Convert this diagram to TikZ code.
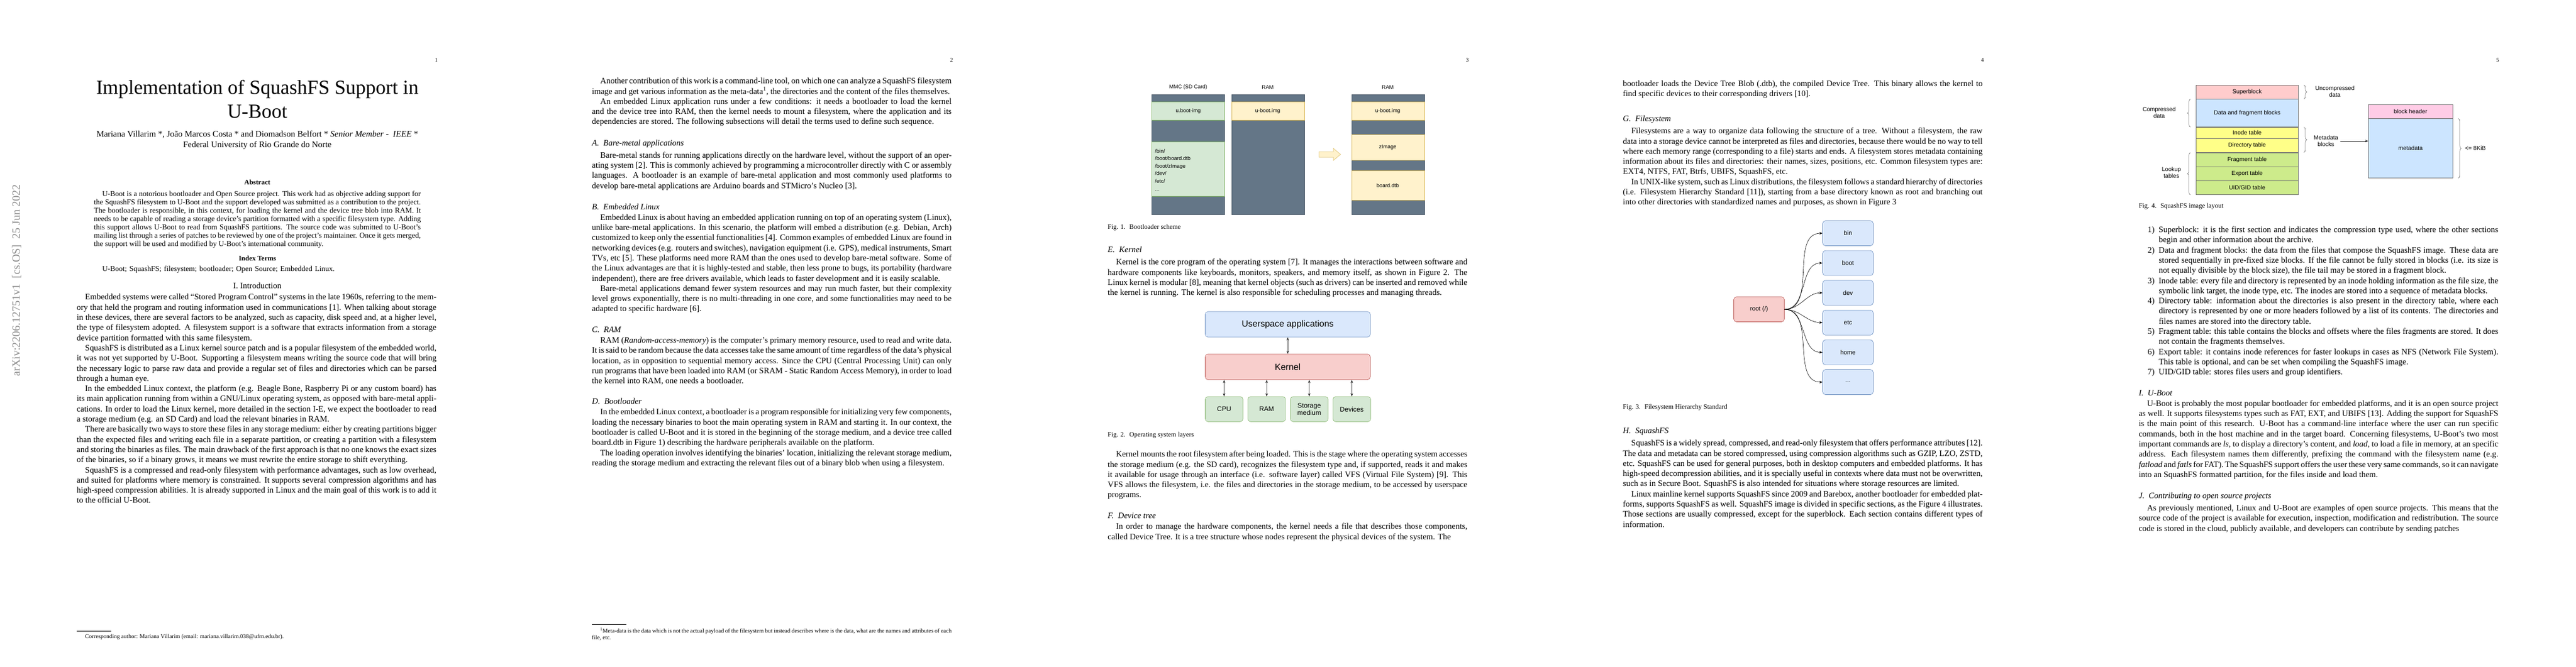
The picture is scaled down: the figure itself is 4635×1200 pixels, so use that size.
\documentclass[tikz,border=0pt]{standalone}
\usepackage{fontspec}
\setmainfont{Liberation Serif}
\newfontfamily\figfont{Liberation Sans}
\usepackage{xcolor}
\usetikzlibrary{positioning, arrows.meta, decorations.pathreplacing}
\definecolor{slate}{HTML}{647687}
\definecolor{mintfill}{HTML}{D5E8D4}
\definecolor{mintline}{HTML}{82B366}
\definecolor{creamfill}{HTML}{FFF2CC}
\definecolor{creamline}{HTML}{D6B656}
\definecolor{skyfill}{HTML}{DAE8FC}
\definecolor{skyline}{HTML}{6C8EBF}
\definecolor{rosefill}{HTML}{F8CECC}
\definecolor{roseline}{HTML}{B85450}
\definecolor{sqpink}{HTML}{FFCCCC}
\definecolor{sqblue}{HTML}{CCE5FF}
\definecolor{sqyellow}{HTML}{FFFF88}
\definecolor{sqgreen}{HTML}{CDEB8B}
\definecolor{sqheader}{HTML}{FFCCE6}
\newcommand{\bodyfont}{\fontsize{15}{18.3}\selectfont}
\newcommand{\pin}{\hspace*{15pt}}
\newcommand{\sqitem}[1]{\par\leavevmode\llap{#1)\ \ }}

\begin{document}
\begin{tikzpicture}[
        x=1pt, y=-1pt,
        >=Stealth,
        body/.style={anchor=north west, inner sep=0pt, text width=647pt, align=justify, font=\bodyfont},
        heading/.style={anchor=north west, inner sep=0pt, font=\fontsize{15}{17}\selectfont\itshape},
        caption/.style={anchor=north west, inner sep=0pt, font=\fontsize{12}{14}\selectfont},
        pagenum/.style={inner sep=0pt, font=\fontsize{10}{11}\selectfont},
        band/.style={draw=slate!80!black, fill=slate, line width=0.5pt},
        mmcband/.style={draw=mintline, fill=mintfill, line width=0.5pt},
        ramband/.style={draw=creamline, fill=creamfill, line width=0.5pt},
        layerbox/.style={draw=#1line, fill=#1fill, rounded corners=5pt, line width=0.6pt, font=\figfont},
        dirbox/.style={layerbox=sky, minimum width=91pt, minimum height=45pt, font=\figfont\fontsize{11}{13}\selectfont},
        hwbox/.style={layerbox=mint, minimum width=68pt, minimum height=45pt, align=center, font=\figfont\fontsize{12}{13}\selectfont},
        sqrow/.style={draw=black!55, minimum width=184pt, font=\figfont\fontsize{10.5}{12}\selectfont, inner sep=0pt},
        sqbrace/.style={decorate, decoration={brace, amplitude=5pt}, draw=black!70, line width=0.5pt},
        sqlabel/.style={align=center, font=\figfont\fontsize{10.5}{12}\selectfont, inner sep=0pt},
        link/.style={<->, draw=black!80, line width=0.6pt}
    ]
    \useasboundingbox[fill=white] (0,0) rectangle (4635,1200);

    % ---------- page 1 ----------
    \node[rotate=90, text=black!45, font=\fontsize{20}{22}\selectfont] (arxiv) at (30,505) {arXiv:2206.12751v1\ \ [cs.OS]\ \ 25 Jun 2022};
    \node[pagenum] (num1) at (785,108) {1};
    \node[align=center, font=\fontsize{36}{43}\selectfont] (title) at (463,178) {Implementation of SquashFS Support in\\U-Boot};
    \node[align=center, font=\fontsize{15.5}{19}\selectfont] (authors) at (463,252) {Mariana Villarim *, João Marcos Costa * and Diomadson Belfort * \textit{Senior Member - \ IEEE} *\\Federal University of Rio Grande do Norte};
    \node[font=\fontsize{12.5}{14}\selectfont\bfseries] (abshead) at (463,328) {Abstract};
    \node[anchor=north west, inner sep=0pt, text width=588pt, align=justify, font=\fontsize{13.5}{15}\selectfont] (abstract) at (169,344) {\pin U-Boot is a notorious bootloader and Open Source project. This work had as objective adding support for the SquashFS filesystem to U-Boot and the support developed was submitted as a contribution to the project. The bootloader is responsible, in this context, for loading the kernel and the device tree blob into RAM. It needs to be capable of reading a storage device's partition formatted with a specific filesystem type. Adding this support allows U-Boot to read from SquashFS partitions. The source code was submitted to U-Boot's mailing list through a series of patches to be reviewed by one of the project's maintainer. Once it gets merged, the support will be used and modified by U-Boot's international community.};
    \node[font=\fontsize{12.5}{14}\selectfont\bfseries, below=10pt of abstract] (indexhead) {Index Terms};
    \node[anchor=north west, inner sep=0pt, text width=588pt, font=\fontsize{13.5}{15}\selectfont] (index) at ([yshift=-6pt]indexhead.south -| abstract.west) {\pin U-Boot; SquashFS; filesystem; bootloader; Open Source; Embedded Linux.};
    \coordinate (introstart) at (index.south -| title);
    \node[font=\fontsize{15}{17}\selectfont, below=14pt of introstart] (intro) {I. \textsc{Introduction}};
    \node[body] (p1text) at ([yshift=-6pt]intro.south -| 138,0) {\pin Embedded systems were called ``Stored Program Control'' systems in the late 1960s, referring to the memory that held the program and routing information used in communications [1]. When talking about storage in these devices, there are several factors to be analyzed, such as capacity, disk speed and, at a higher level, the type of filesystem adopted. A filesystem support is a software that extracts information from a storage device partition formatted with this same filesystem.\par
    \pin SquashFS is distributed as a Linux kernel source patch and is a popular filesystem of the embedded world, it was not yet supported by U-Boot. Supporting a filesystem means writing the source code that will bring the necessary logic to parse raw data and provide a regular set of files and directories which can be parsed through a human eye.\par
    \pin In the embedded Linux context, the platform (e.g. Beagle Bone, Raspberry Pi or any custom board) has its main application running from within a GNU/Linux operating system, as opposed with bare-metal applications. In order to load the Linux kernel, more detailed in the section I-E, we expect the bootloader to read a storage medium (e.g. an SD Card) and load the relevant binaries in RAM.\par
    \pin There are basically two ways to store these files in any storage medium: either by creating partitions bigger than the expected files and writing each file in a separate partition, or creating a partition with a filesystem and storing the binaries as files. The main drawback of the first approach is that no one knows the exact sizes of the binaries, so if a binary grows, it means we must rewrite the entire storage to shift everything.\par
    \pin SquashFS is a compressed and read-only filesystem with performance advantages, such as low overhead, and suited for platforms where memory is constrained. It supports several compression algorithms and has high-speed compression abilities. It is already supported in Linux and the main goal of this work is to add it to the official U-Boot.};
    \draw[line width=0.4pt] (138,1136) -- (200,1136);
    \node[caption, font=\fontsize{10.5}{12}\selectfont] (p1foot) at (138,1142) {\pin Corresponding author: Mariana Villarim (email: mariana.villarim.038@ufrn.edu.br).};

    % ---------- page 2 ----------
    \node[pagenum] (num2) at (1712,108) {2};
    \node[body] (p2a) at (1065,140) {\pin Another contribution of this work is a command-line tool, on which one can analyze a SquashFS filesystem image and get various information as the meta-data\textsuperscript{1}, the directories and the content of the files themselves.\par
    \pin An embedded Linux application runs under a few conditions: it needs a bootloader to load the kernel and the device tree into RAM, then the kernel needs to mount a filesystem, where the application and its dependencies are stored. The following subsections will detail the terms used to define such sequence.};
    \node[heading, below=24pt of p2a.south west, anchor=north west] (baremetal) {A. \ Bare-metal applications};
    \node[body, below=8pt of baremetal.south west, anchor=north west] (p2b) {\pin Bare-metal stands for running applications directly on the hardware level, without the support of an operating system [2]. This is commonly achieved by programming a microcontroller directly with C or assembly languages. A bootloader is an example of bare-metal application and most commonly used platforms to develop bare-metal applications are Arduino boards and STMicro's Nucleo [3].};
    \node[heading, below=24pt of p2b.south west, anchor=north west] (emblinux) {B. \ Embedded Linux};
    \node[body, below=8pt of emblinux.south west, anchor=north west] (p2c) {\pin Embedded Linux is about having an embedded application running on top of an operating system (Linux), unlike bare-metal applications. In this scenario, the platform will embed a distribution (e.g. Debian, Arch) customized to keep only the essential functionalities [4]. Common examples of embedded Linux are found in networking devices (e.g. routers and switches), navigation equipment (i.e. GPS), medical instruments, Smart TVs, etc [5]. These platforms need more RAM than the ones used to develop bare-metal software. Some of the Linux advantages are that it is highly-tested and stable, then less prone to bugs, its portability (hardware independent), there are free drivers available, which leads to faster development and it is easily scalable.\par
    \pin Bare-metal applications demand fewer system resources and may run much faster, but their complexity level grows exponentially, there is no multi-threading in one core, and some functionalities may need to be adapted to specific hardware [6].};
    \node[heading, below=24pt of p2c.south west, anchor=north west] (ramhead) {C. \ RAM};
    \node[body, below=8pt of ramhead.south west, anchor=north west] (p2d) {\pin RAM (\textit{Random-access-memory}) is the computer's primary memory resource, used to read and write data. It is said to be random because the data accesses take the same amount of time regardless of the data's physical location, as in opposition to sequential memory access. Since the CPU (Central Processing Unit) can only run programs that have been loaded into RAM (or SRAM - Static Random Access Memory), in order to load the kernel into RAM, one needs a bootloader.};
    \node[heading, below=24pt of p2d.south west, anchor=north west] (boothead) {D. \ Bootloader};
    \node[body, below=8pt of boothead.south west, anchor=north west] (p2e) {\pin In the embedded Linux context, a bootloader is a program responsible for initializing very few components, loading the necessary binaries to boot the main operating system in RAM and starting it. In our context, the bootloader is called U-Boot and it is stored in the beginning of the storage medium, and a device tree called board.dtb in Figure 1) describing the hardware peripherals available on the platform.\par
    \pin The loading operation involves identifying the binaries' location, initializing the relevant storage medium, reading the storage medium and extracting the relevant files out of a binary blob when using a filesystem.};
    \draw[line width=0.4pt] (1065,1124) -- (1127,1124);
    \node[anchor=north west, inner sep=0pt, text width=647pt, align=justify, font=\fontsize{10.5}{12}\selectfont] (p2foot) at (1065,1130) {\pin\textsuperscript{1}Meta-data is the data which is not the actual payload of the filesystem but instead describes where is the data, what are the names and attributes of each file, etc.};

    % ---------- page 3 ----------
    \node[pagenum] (num3) at (2640,108) {3};
    % bootloader scheme
    \begin{scope}[font=\figfont\fontsize{9.5}{12}\selectfont]
        \node (mmclabel) at (2138,157) {MMC (SD Card)};
        \draw[band] (2072,170) rectangle (2203,386);
        \draw[mmcband] (2072,183) rectangle (2203,216);
        \draw[mmcband] (2072,255) rectangle (2203,353);
        \node (mmcboot) at (2138,200) {u.boot-img};
        \node[anchor=north west, align=left, inner sep=0pt, font=\figfont\fontsize{9.5}{13.6}\selectfont] (mmcfiles) at (2078,268) {/bin/\\/boot/board.dtb\\/boot/zImage\\/dev/\\/etc/\\...};
        \node (ramlabel) at (2281,157) {RAM};
        \draw[band] (2216,170) rectangle (2347,386);
        \draw[ramband] (2216,183) rectangle (2347,216);
        \node (ramboot) at (2281,200) {u-boot.img};
        \draw[creamline, fill=creamfill, line width=0.5pt] (2373,273) -- (2399,273) -- (2399,267) -- (2412,278) -- (2399,289) -- (2399,283) -- (2373,283) -- cycle;
        \node (loadedlabel) at (2497,157) {RAM};
        \draw[band] (2432,170) rectangle (2563,386);
        \draw[ramband] (2432,183) rectangle (2563,216);
        \draw[ramband] (2432,242) rectangle (2563,288);
        \draw[ramband] (2432,307) rectangle (2563,360);
        \node (loadedboot) at (2497,200) {u-boot.img};
        \node (zimage) at (2497,265) {zImage};
        \node (dtb) at (2497,334) {board.dtb};
    \end{scope}
    \node[caption] (cap1) at (1993,404) {Fig. 1. \ Bootloader scheme};
    \node[heading] (kernelhead) at (1993,444) {E. \ Kernel};
    \node[body] (p3a) at (1993,466) {\pin Kernel is the core program of the operating system [7]. It manages the interactions between software and hardware components like keyboards, monitors, speakers, and memory itself, as shown in Figure 2. The Linux kernel is modular [8], meaning that kernel objects (such as drivers) can be inserted and removed while the kernel is running. The kernel is also responsible for scheduling processes and managing threads.};
    % operating system layers
    \node[layerbox=sky, minimum width=297pt, minimum height=46pt, font=\figfont\fontsize{16}{18}\selectfont] (userspace) at (2317,584) {Userspace applications};
    \node[layerbox=rose, minimum width=297pt, minimum height=46pt, font=\figfont\fontsize{16}{18}\selectfont, below=30pt of userspace] (kernel) {Kernel};
    \node[hwbox, below=30pt of kernel.south west, anchor=north west] (cpu) {CPU};
    \node[hwbox, right=8pt of cpu] (ram) {RAM};
    \node[hwbox, right=8pt of ram] (storage) {Storage\\medium};
    \node[hwbox, right=8pt of storage] (devices) {Devices};
    \draw[link] (kernel.north) -- (userspace.south);
    \foreach \hw in {cpu, ram, storage, devices}
        \draw[link] (\hw.north) -- (\hw.north |- kernel.south);
    \node[caption] (cap2) at (1993,778) {Fig. 2. \ Operating system layers};
    \node[body] (p3b) at (1993,812) {\pin Kernel mounts the root filesystem after being loaded. This is the stage where the operating system accesses the storage medium (e.g. the SD card), recognizes the filesystem type and, if supported, reads it and makes it available for usage through an interface (i.e. software layer) called VFS (Virtual File System) [9]. This VFS allows the filesystem, i.e. the files and directories in the storage medium, to be accessed by userspace programs.};
    \node[heading, below=24pt of p3b.south west, anchor=north west] (dthead) {F. \ Device tree};
    \node[body, below=8pt of dthead.south west, anchor=north west] (p3c) {\pin In order to manage the hardware components, the kernel needs a file that describes those components, called Device Tree. It is a tree structure whose nodes represent the physical devices of the system. The};

    % ---------- page 4 ----------
    \node[pagenum] (num4) at (3567,108) {4};
    \node[body] (p4a) at (2920,145) {bootloader loads the Device Tree Blob (.dtb), the compiled Device Tree. This binary allows the kernel to find specific devices to their corresponding drivers [10].};
    \node[heading] (fshead) at (2920,208) {G. \ Filesystem};
    \node[body] (p4b) at (2920,230) {\pin Filesystems are a way to organize data following the structure of a tree. Without a filesystem, the raw data into a storage device cannot be interpreted as files and directories, because there would be no way to tell where each memory range (corresponding to a file) starts and ends. A filesystem stores metadata containing information about its files and directories: their names, sizes, positions, etc. Common filesystem types are: EXT4, NTFS, FAT, Btrfs, UBIFS, SquashFS, etc.\par
    \pin In UNIX-like system, such as Linux distributions, the filesystem follows a standard hierarchy of directories (i.e. Filesystem Hierarchy Standard [11]), starting from a base directory known as root and branching out into other directories with standardized names and purposes, as shown in Figure 3};
    % filesystem hierarchy
    \node[layerbox=rose, minimum width=91pt, minimum height=45pt, font=\figfont\fontsize{11}{13}\selectfont] (root) at (3165,557) {root (/)};
    \node[dirbox] (bin) at (3325,420) {bin};
    \node[dirbox, below=8pt of bin] (boot) {boot};
    \node[dirbox, below=8pt of boot] (dev) {dev};
    \node[dirbox, below=8pt of dev] (etc) {etc};
    \node[dirbox, below=8pt of etc] (home) {home};
    \node[dirbox, below=8pt of home] (more) {...};
    \foreach \dir in {bin, boot, dev, etc, home, more}
        \draw[->, line width=0.6pt] (root.east) to[out=0, in=180] (\dir.west);
    \node[caption] (cap3) at (2920,728) {Fig. 3. \ Filesystem Hierarchy Standard};
    \node[heading] (sqhead) at (2920,770) {H. \ SquashFS};
    \node[body] (p4c) at (2920,792) {\pin SquashFS is a widely spread, compressed, and read-only filesystem that offers performance attributes [12]. The data and metadata can be stored compressed, using compression algorithms such as GZIP, LZO, ZSTD, etc. SquashFS can be used for general purposes, both in desktop computers and embedded platforms. It has high-speed decompression abilities, and it is specially useful in contexts where data must not be overwritten, such as in Secure Boot. SquashFS is also intended for situations where storage resources are limited.\par
    \pin Linux mainline kernel supports SquashFS since 2009 and Barebox, another bootloader for embedded platforms, supports SquashFS as well. SquashFS image is divided in specific sections, as the Figure 4 illustrates. Those sections are usually compressed, except for the superblock. Each section contains different types of information.};

    % ---------- page 5 ----------
    \node[pagenum] (num5) at (4494,108) {5};
    % squashfs image layout
    \node[sqrow, fill=sqpink, minimum height=25pt, anchor=north west] (superblock) at (3951,153) {Superblock};
    \node[sqrow, fill=sqblue, minimum height=50pt, below=0pt of superblock] (datablocks) {Data and fragment blocks};
    \node[sqrow, fill=sqyellow, minimum height=20pt, below=0pt of datablocks] (inode) {Inode table};
    \node[sqrow, fill=sqyellow, minimum height=25pt, below=0pt of inode] (directory) {Directory table};
    \node[sqrow, fill=sqgreen, minimum height=25pt, below=0pt of directory] (fragment) {Fragment table};
    \node[sqrow, fill=sqgreen, minimum height=25pt, below=0pt of fragment] (export) {Export table};
    \node[sqrow, fill=sqgreen, minimum height=25pt, below=0pt of export] (uidgid) {UID/GID table};
    \draw[sqbrace] ([xshift=-10pt]datablocks.south west) -- ([xshift=-10pt]datablocks.north west);
    \node[sqlabel] (compressed) at (3885,203) {Compressed\\data};
    \draw[sqbrace] ([xshift=-10pt]uidgid.south west) -- ([xshift=-10pt]fragment.north west);
    \node[sqlabel] (lookup) at (3907,311) {Lookup\\tables};
    \draw[sqbrace] ([xshift=10pt]superblock.north east) -- ([xshift=10pt]superblock.south east);
    \node[sqlabel] (uncompressed) at (4201,165) {Uncompressed\\data};
    \draw[sqbrace] ([xshift=10pt]inode.north east) -- ([xshift=10pt]directory.south east);
    \node[sqlabel] (metalabel) at (4185,254) {Metadata\\blocks};
    \node[sqrow, fill=sqheader, minimum width=152pt, minimum height=25pt, anchor=north west] (header) at (4261,188) {block header};
    \node[sqrow, fill=sqblue, minimum width=152pt, minimum height=107pt, below=0pt of header] (metadata) {metadata};
    \draw[->, line width=0.5pt] (metalabel.east) ++(4pt,0) -- (metadata.west |- metalabel.east);
    \draw[sqbrace] ([xshift=10pt]metadata.north east) -- ([xshift=10pt]metadata.south east);
    \node[sqlabel, anchor=west] (maxsize) at (4435,267) {<= 8KiB};
    \node[caption] (cap4) at (3848,366) {Fig. 4. \ SquashFS image layout};
    \node[body, text width=611pt] (sqlist) at (3884,400) {\sqitem{1}Superblock: it is the first section and indicates the compression type used, where the other sections begin and other information about the archive.
    \sqitem{2}Data and fragment blocks: the data from the files that compose the SquashFS image. These data are stored sequentially in pre-fixed size blocks. If the file cannot be fully stored in blocks (i.e. its size is not equally divisible by the block size), the file tail may be stored in a fragment block.
    \sqitem{3}Inode table: every file and directory is represented by an inode holding information as the file size, the symbolic link target, the inode type, etc. The inodes are stored into a sequence of metadata blocks.
    \sqitem{4}Directory table: information about the directories is also present in the directory table, where each directory is represented by one or more headers followed by a list of its contents. The directories and files names are stored into the directory table.
    \sqitem{5}Fragment table: this table contains the blocks and offsets where the files fragments are stored. It does not contain the fragments themselves.
    \sqitem{6}Export table: it contains inode references for faster lookups in cases as NFS (Network File System). This table is optional, and can be set when compiling the SquashFS image.
    \sqitem{7}UID/GID table: stores files users and group identifiers.};
    \node[heading] (uboothead) at ([yshift=-24pt]sqlist.south -| 3848,0) {I. \ U-Boot};
    \node[body, below=8pt of uboothead.south west, anchor=north west] (p5a) {\pin U-Boot is probably the most popular bootloader for embedded platforms, and it is an open source project as well. It supports filesystems types such as FAT, EXT, and UBIFS [13]. Adding the support for SquashFS is the main point of this research. U-Boot has a command-line interface where the user can run specific commands, both in the host machine and in the target board. Concerning filesystems, U-Boot's two most important commands are \textit{ls}, to display a directory's content, and \textit{load}, to load a file in memory, at an specific address. Each filesystem names them differently, prefixing the command with the filesystem name (e.g. \textit{fatload} and \textit{fatls} for FAT). The SquashFS support offers the user these very same commands, so it can navigate into an SquashFS formatted partition, for the files inside and load them.};
    \node[heading, below=24pt of p5a.south west, anchor=north west] (contribhead) {J. \ Contributing to open source projects};
    \node[body, below=8pt of contribhead.south west, anchor=north west] (p5b) {\pin As previously mentioned, Linux and U-Boot are examples of open source projects. This means that the source code of the project is available for execution, inspection, modification and redistribution. The source code is stored in the cloud, publicly available, and developers can contribute by sending patches};
\end{tikzpicture}
\end{document}
